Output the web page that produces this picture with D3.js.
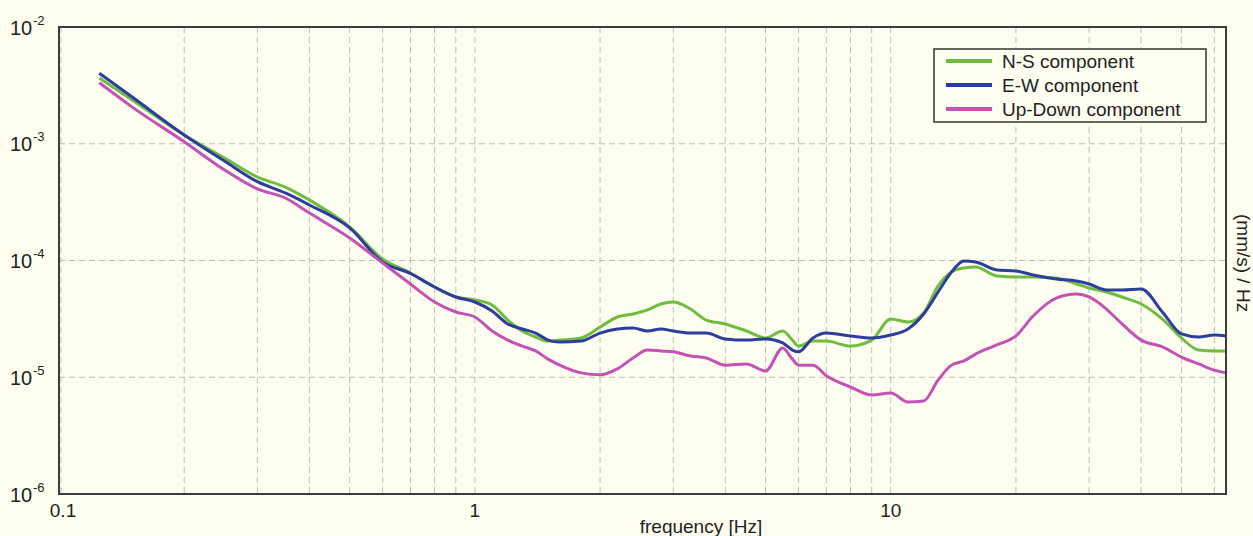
<!DOCTYPE html>
<html>
<head>
<meta charset="utf-8">
<script src="https://cdn.jsdelivr.net/npm/d3@7"></script>
<style>
	body{margin:0;background:#fefef0;}
	svg{display:block;font-family:"Liberation Sans",Arial,sans-serif;}
	.grid line{stroke:#bdbdb4;stroke-width:1;stroke-dasharray:6,4;}
	.frame{fill:none;stroke:#3c3c3c;stroke-width:2;}
	.curve{fill:none;stroke-width:3;stroke-linejoin:round;}
</style>
</head>
<body>
<script>
//wrap everything in a self-executing anonymous function to move to local scope
(function(){
	//frequencies shared by all three spectra [Hz]
	var freqs=[0.125,0.15,0.2,0.25,0.3,0.35,0.4,0.5,0.6,0.7,0.8,0.9,
		1.0,1.1,1.2,1.3,1.4,1.5,1.6,1.8,2.0,2.2,2.4,2.6,2.8,3.0,3.3,3.6,4.0,4.5,
		5.0,5.5,5.8,6.0,6.5,7.0,8.0,9.0,10,11,12,13,14,15,16,18,20,22,25,28,
		30,33,36,40,45,50,55,60,64];

	//N-S component
	var nsValues=[3.66e-3,2.37e-3,1.19e-3,7.55e-4,5.19e-4,4.26e-4,3.30e-4,1.94e-4,1.03e-4,7.82e-5,5.93e-5,4.87e-5,
		4.59e-5,4.16e-5,3.09e-5,2.49e-5,2.21e-5,2.04e-5,2.08e-5,2.17e-5,2.69e-5,3.28e-5,3.48e-5,3.77e-5,4.24e-5,4.41e-5,3.84e-5,3.09e-5,2.86e-5,2.49e-5,
		2.17e-5,2.49e-5,2.08e-5,1.85e-5,2.04e-5,2.04e-5,1.85e-5,2.08e-5,3.15e-5,2.97e-5,3.55e-5,6.05e-5,7.97e-5,8.63e-5,8.80e-5,7.37e-5,7.22e-5,7.22e-5,7.08e-5,6.29e-5,
		5.81e-5,5.37e-5,4.87e-5,4.24e-5,3.15e-5,2.17e-5,1.71e-5,1.68e-5,1.68e-5];

	//E-W component
	var ewValues=[4.01e-3,2.51e-3,1.19e-3,7.11e-4,4.73e-4,3.79e-4,2.99e-4,1.90e-4,9.71e-5,7.74e-5,5.93e-5,4.87e-5,
		4.41e-5,3.69e-5,2.86e-5,2.59e-5,2.39e-5,2.08e-5,2.00e-5,2.04e-5,2.39e-5,2.59e-5,2.64e-5,2.49e-5,2.59e-5,2.49e-5,2.39e-5,2.39e-5,2.13e-5,2.08e-5,
		2.13e-5,1.97e-5,1.71e-5,1.65e-5,2.17e-5,2.39e-5,2.26e-5,2.17e-5,2.30e-5,2.59e-5,3.48e-5,5.37e-5,7.97e-5,9.90e-5,9.71e-5,8.29e-5,8.13e-5,7.51e-5,6.94e-5,6.67e-5,
		6.29e-5,5.59e-5,5.59e-5,5.70e-5,3.62e-5,2.35e-5,2.21e-5,2.30e-5,2.26e-5];

	//Up-Down component
	var udValues=[3.33e-3,2.06e-3,1.04e-3,5.96e-4,4.10e-4,3.43e-4,2.55e-4,1.56e-4,9.52e-5,6.29e-5,4.41e-5,3.62e-5,
		3.28e-5,2.49e-5,2.08e-5,1.85e-5,1.68e-5,1.43e-5,1.27e-5,1.09e-5,1.05e-5,1.18e-5,1.46e-5,1.71e-5,1.68e-5,1.65e-5,1.52e-5,1.46e-5,1.27e-5,1.30e-5,
		1.13e-5,1.78e-5,1.43e-5,1.27e-5,1.27e-5,1.03e-5,8.25e-6,7.05e-6,7.33e-6,6.14e-6,6.26e-6,9.47e-6,1.27e-5,1.38e-5,1.58e-5,1.89e-5,2.26e-5,3.35e-5,4.77e-5,5.17e-5,
		4.87e-5,3.84e-5,2.86e-5,2.08e-5,1.82e-5,1.49e-5,1.30e-5,1.15e-5,1.09e-5];

	var seriesNames=["N-S component","E-W component","Up-Down component"];
	var seriesColors=["#6fbd3e","#2c3d9d","#c452b5"];

	//axis tick labels
	var xTickValues=[0.1,1,10];
	var xTickLabels=["0.1","1","10"];
	var yTickValues=[1e-2,1e-3,1e-4,1e-5,1e-6];
	var yTickExps=["-2","-3","-4","-5","-6"];

//begin script when window loads
window.onload=setChart();

function setChart(){
	var width=1253,
		height=536,
		left=59,
		right=1226,
		top=27,
		bottom=494;

	var svg=d3.select("body")
		.append("svg")
		.attr("width",width)
		.attr("height",height);

	//log scales for both axes
	var x=d3.scaleLog()
		.domain([0.1,64])
		.range([left,right]);
	var y=d3.scaleLog()
		.domain([1e-6,1e-2])
		.range([bottom,top]);

	//vertical grid at every 1..9 multiple
	var xGridValues=x.ticks().filter(function(d){return d>0.1 && d<64;});
	var grid=svg.append("g").attr("class","grid");
	grid.selectAll(".vgrid")
		.data(xGridValues)
		.enter()
		.append("line")
		.attr("x1",function(d){return x(d);})
		.attr("x2",function(d){return x(d);})
		.attr("y1",top)
		.attr("y2",bottom);
	//horizontal grid only on decades
	grid.selectAll(".hgrid")
		.data(yTickValues.slice(1,4))
		.enter()
		.append("line")
		.attr("x1",left)
		.attr("x2",right)
		.attr("y1",function(d){return y(d);})
		.attr("y2",function(d){return y(d);});
	//the 0.1 gridline sits on the left frame
	grid.append("line")
		.attr("x1",x(0.1)+2).attr("x2",x(0.1)+2)
		.attr("y1",top).attr("y2",bottom);

	//curves
	var line=d3.line()
		.x(function(d){return x(d[0]);})
		.y(function(d){return y(d[1]);})
		.curve(d3.curveMonotoneX);

	var allValues=[nsValues,ewValues,udValues];
	allValues.forEach(function(vals,i){
		svg.append("path")
			.datum(freqs.map(function(f,j){return [f,vals[j]];}))
			.attr("class","curve")
			.attr("stroke",seriesColors[i])
			.attr("d",line);
	});

	//frame
	svg.append("rect")
		.attr("class","frame")
		.attr("x",left)
		.attr("y",top)
		.attr("width",right-left)
		.attr("height",bottom-top);

	//x tick labels
	svg.selectAll(".xlabel")
		.data(xTickValues)
		.enter()
		.append("text")
		.attr("x",function(d){return x(d)+(d==0.1?4:0);})
		.attr("y",517)
		.attr("text-anchor","middle")
		.style("font-size","19px")
		.style("fill","#222")
		.text(function(d,i){return xTickLabels[i];});

	//y tick labels as 10 with exponent
	var yLabels=svg.selectAll(".ylabel")
		.data(yTickValues)
		.enter()
		.append("g")
		.attr("transform",function(d){return "translate(0,"+y(d)+")";});
	yLabels.append("text")
		.attr("x",10)
		.attr("y",7.5)
		.style("font-size","20px")
		.style("fill","#222")
		.text("10");
	yLabels.append("text")
		.attr("x",33)
		.attr("y",-2.5)
		.style("font-size","13px")
		.style("fill","#222")
		.text(function(d,i){return yTickExps[i];});

	//axis titles
	svg.append("text")
		.attr("x",701)
		.attr("y",533)
		.attr("text-anchor","middle")
		.style("font-size","19px")
		.style("fill","#222")
		.text("frequency [Hz]");
	svg.append("text")
		.attr("transform","translate(1237,214) rotate(90)")
		.style("font-size","19px")
		.style("fill","#222")
		.text("(mm/s)  / Hz");

	//legend
	var legend=svg.append("g");
	legend.append("rect")
		.attr("x",934)
		.attr("y",49)
		.attr("width",272)
		.attr("height",73)
		.attr("fill","#fefef0")
		.attr("stroke","#333")
		.attr("stroke-width",1.5);
	var items=legend.selectAll(".item")
		.data(seriesNames)
		.enter()
		.append("g")
		.attr("transform",function(d,i){return "translate(0,"+(61+i*24)+")";});
	items.append("line")
		.attr("x1",946)
		.attr("x2",992)
		.attr("stroke",function(d,i){return seriesColors[i];})
		.attr("stroke-width",4);
	items.append("text")
		.attr("x",1002)
		.attr("y",7)
		.style("font-size","19px")
		.style("fill","#222")
		.text(function(d){return d;});
};

})();
</script>
</body>
</html>
